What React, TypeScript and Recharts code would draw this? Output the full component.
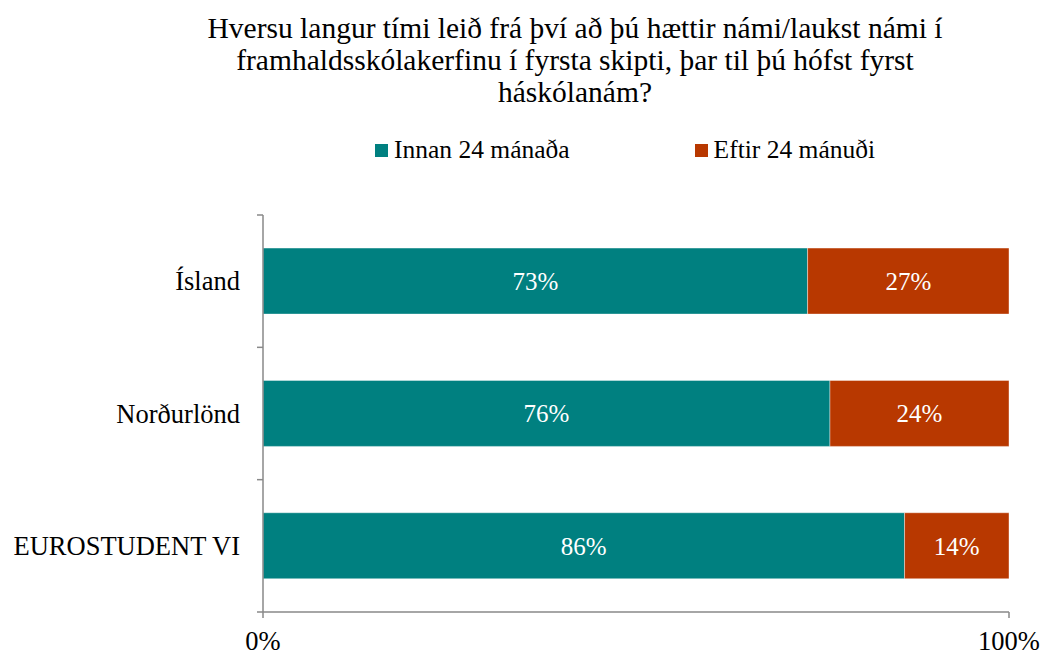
import { BarChart, Bar, XAxis, YAxis, LabelList } from "recharts";

const categories = ["Ísland", "Norðurlönd", "EUROSTUDENT VI"];
const within24 = [73, 76, 86];
const after24 = [27, 24, 14];
const xTicks = [0, 100];

const seriesNames = ["Innan 24 mánaða", "Eftir 24 mánuði"];
const colors = ["#008080", "#B83800"];

const titleLines = [
  "Hversu langur tími leið frá því að þú hættir námi/laukst námi í",
  "framhaldsskólakerfinu í fyrsta skipti, þar til þú hófst fyrst",
  "háskólanám?",
];

const data = categories.map((name, i) => ({
  name,
  within: within24[i],
  after: after24[i],
}));

const FONT = "'Liberation Serif', 'Times New Roman', Tinos, 'DejaVu Serif', serif";
const AXIS = "#898989";
const PLOT_TOP = 215;
const PLOT_BOTTOM = 612;
const BAND = (PLOT_BOTTOM - PLOT_TOP) / categories.length;

// category label plus tick marks at band edges (Excel style)
function CategoryTick(props: any) {
  const { y, payload, index } = props;
  const axisX = 263;
  return (
    <g>
      <text x={240} y={y} textAnchor="end" dominantBaseline="central" fontSize={26.5} style={{ fontFamily: FONT }} fill="#000">
        {payload.value}
      </text>
      <line x1={axisX - 6} x2={axisX} y1={y - BAND / 2} y2={y - BAND / 2} stroke={AXIS} strokeWidth={1.5} />
      {index === categories.length - 1 && (
        <line x1={axisX - 6} x2={axisX} y1={y + BAND / 2} y2={y + BAND / 2} stroke={AXIS} strokeWidth={1.5} />
      )}
    </g>
  );
}

export default function App() {
  return (
    <div style={{ position: "absolute", left: 0, top: 0, width: 1040, height: 655, background: "#fff", fontFamily: FONT }}>
      <div
        style={{
          position: "absolute",
          top: 12,
          left: 0,
          width: 1150,
          textAlign: "center",
          fontSize: 29.5,
          lineHeight: "32px",
          color: "#000",
        }}
      >
        {titleLines.map((l) => (
          <div key={l}>{l}</div>
        ))}
      </div>
      <div style={{ position: "absolute", top: 134, left: 375, display: "flex", fontSize: 25.5, lineHeight: "32px", color: "#000" }}>
        {seriesNames.map((n, i) => (
          <div key={n} style={{ display: "flex", alignItems: "center", marginRight: i === 0 ? 125 : 0 }}>
            <span style={{ width: 13, height: 13, background: colors[i], display: "inline-block", marginRight: 6 }} />
            <span>{n}</span>
          </div>
        ))}
      </div>
      <BarChart
        width={1040}
        height={655}
        data={data}
        layout="vertical"
        margin={{ top: PLOT_TOP, right: 31, bottom: 0, left: 0 }}
        barCategoryGap="25%"
        style={{ fontFamily: FONT }}
      >
        <XAxis
          type="number"
          domain={[0, 100]}
          ticks={xTicks}
          tickFormatter={(v) => `${v}%`}
          height={43}
          stroke={AXIS}
          strokeWidth={1.5}
          tickSize={6}
          tickMargin={13}
          tick={{ fontSize: 26.5, fill: "#000", style: { fontFamily: FONT } }}
        />
        <YAxis
          type="category"
          dataKey="name"
          width={263}
          stroke={AXIS}
          strokeWidth={1.5}
          tickLine={false}
          tick={<CategoryTick />}
        />
        <Bar dataKey="within" name={seriesNames[0]} stackId="a" fill={colors[0]} stroke="#ffffff" strokeOpacity={0.4} strokeWidth={1} isAnimationActive={false}>
          <LabelList dataKey="within" position="center" formatter={(v: any) => `${v}%`} fill="#fff" fontSize={25} style={{ fontFamily: FONT }} />
        </Bar>
        <Bar dataKey="after" name={seriesNames[1]} stackId="a" fill={colors[1]} stroke="#ffffff" strokeOpacity={0.4} strokeWidth={1} isAnimationActive={false}>
          <LabelList dataKey="after" position="center" formatter={(v: any) => `${v}%`} fill="#fff" fontSize={25} style={{ fontFamily: FONT }} />
        </Bar>
      </BarChart>
    </div>
  );
}
